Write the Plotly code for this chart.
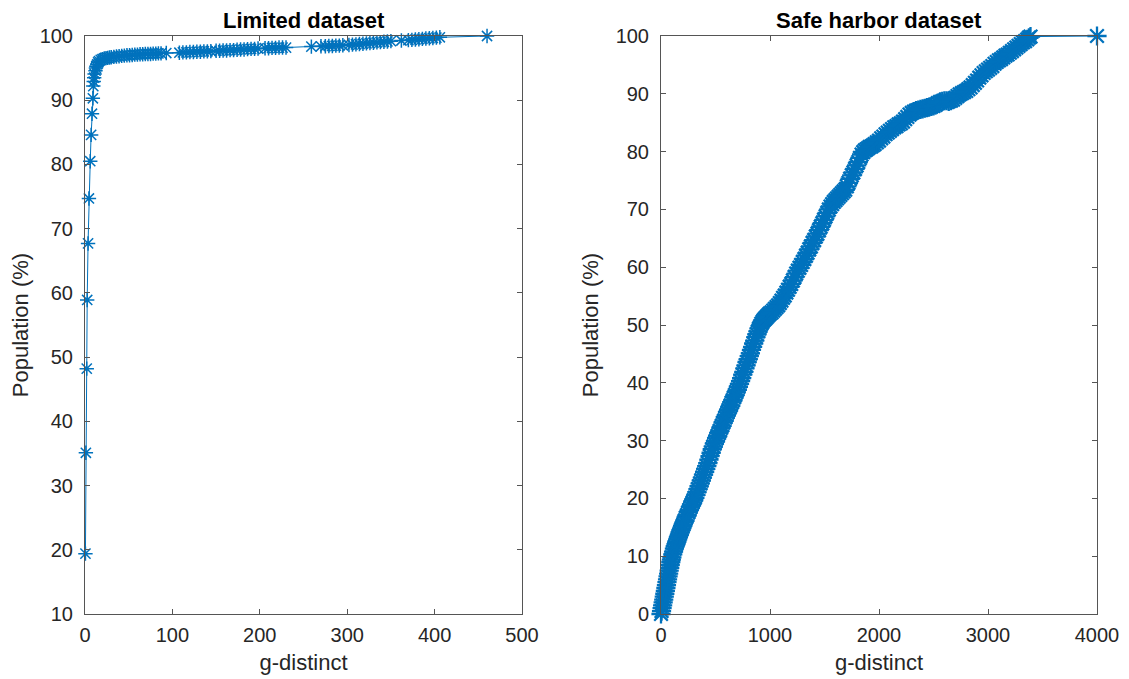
import plotly.graph_objects as go

# ---- Limited dataset (left) ----
limited_g = [0.5, 1, 2, 2.5, 3.5, 4.5, 6, 7, 8, 9, 9.5,
             10, 10.5, 11, 12, 12.5, 13, 14, 15, 16, 18, 20, 22, 24, 26, 28, 30,
             33, 36, 39, 42, 45, 48, 51, 54, 57, 60, 63, 66, 69, 72, 75, 78, 81, 84, 87,
             93,
             108, 112, 116, 120, 124, 128, 132, 136, 140, 144, 150, 154, 158, 162, 166,
             170, 174, 178, 182, 186, 190, 194,
             198,
             206, 210, 214, 218, 222, 226, 230,
             259,
             270, 275, 279, 283, 287, 291, 295,
             302, 306, 310, 314, 318, 322, 326, 330, 334, 338, 342, 346, 350,
             362,
             370, 374, 378, 382, 386, 390, 394, 398, 402, 406,
             460]
limited_pop = [19.4, 35.1, 48.2, 58.9, 67.7, 74.7, 80.5, 84.6, 87.9, 90.3, 92.2,
               92.9, 93.5, 94.1, 94.6, 95.0, 95.3, 95.6, 95.9, 96.1, 96.3, 96.4, 96.5, 96.55, 96.6, 96.65, 96.7,
               96.75, 96.8, 96.85, 96.9, 96.95, 97.0, 97.0, 97.05, 97.1, 97.1, 97.15, 97.15, 97.2, 97.2, 97.2, 97.25, 97.25, 97.3, 97.3,
               97.35,
               97.4, 97.45, 97.45, 97.5, 97.5, 97.55, 97.55, 97.6, 97.6, 97.65, 97.7, 97.7, 97.75, 97.75, 97.8,
               97.8, 97.85, 97.9, 97.9, 97.95, 98.0, 98.0,
               98.05,
               98.1, 98.1, 98.15, 98.15, 98.2, 98.2, 98.2,
               98.35,
               98.4, 98.4, 98.45, 98.45, 98.5, 98.5, 98.55,
               98.6, 98.65, 98.7, 98.75, 98.8, 98.85, 98.9, 98.95, 99.0, 99.05, 99.1, 99.15, 99.2,
               99.3,
               99.35, 99.4, 99.45, 99.5, 99.55, 99.6, 99.65, 99.7, 99.75, 99.8,
               100.0]

# ---- Safe harbor dataset (right) ----
harbor_g = [0, 5, 10, 15, 20, 25, 30, 35, 40, 45, 50, 55, 60, 65, 70, 75, 80, 85, 90, 95, 100,
            108, 115, 123, 130, 138, 145, 153, 160, 168, 175, 183, 190, 198, 205, 213, 220,
            230, 240, 250, 260, 270, 280, 290, 300, 310, 320, 330, 340, 350, 360, 370, 380, 390,
            400, 410, 420, 430, 440, 450, 460, 470, 480, 490, 500, 510, 520, 530, 540, 550, 560,
            570, 580, 590, 600, 610, 620, 630, 640, 650, 660, 670, 680, 690, 700, 710, 720, 730,
            740, 750, 760, 770, 780, 790, 800, 810, 820, 830, 840, 850, 860, 870, 880, 890, 900,
            910, 920, 930, 940, 950, 960, 970, 980, 990, 1000, 1015, 1030, 1045, 1060, 1075, 1090,
            1105, 1120, 1135, 1150, 1165, 1180, 1195, 1210, 1225, 1240, 1255, 1270, 1285, 1300,
            1315, 1330, 1345, 1360, 1375, 1390, 1405, 1420, 1435, 1450, 1465, 1480, 1495, 1510,
            1525, 1540, 1555, 1570, 1585, 1600, 1615, 1630, 1645, 1660, 1675, 1690, 1705, 1720,
            1735, 1750, 1765, 1780, 1795, 1810, 1825, 1840, 1855, 1870, 1885, 1900, 1915, 1930,
            1945, 1960, 1980, 2000, 2020, 2040, 2060, 2080, 2100, 2120, 2140, 2160, 2180, 2200,
            2220, 2240, 2260, 2280, 2300, 2320, 2340, 2360, 2380, 2400, 2420, 2440, 2460, 2480,
            2500, 2520, 2540, 2560, 2580, 2600, 2620, 2640, 2660, 2680, 2700, 2720, 2740, 2760,
            2780, 2800, 2820, 2840, 2860, 2880, 2900, 2920, 2940, 2960, 2980, 3000, 3020, 3040,
            3060, 3080, 3100, 3120, 3140, 3160, 3180, 3200, 3220, 3240, 3260, 3280, 3300, 3320,
            3340, 3360, 3375, 3390, 4000]
harbor_pop = [0, 0.5, 1.0, 1.5, 2.0, 2.5, 3.0, 3.5, 4.0, 4.5, 5.0, 5.5, 6.0, 6.5, 7.0, 7.5, 8.0, 8.5, 9.0, 9.4, 9.8,
              10.3, 10.8, 11.3, 11.7, 12.1, 12.5, 12.9, 13.3, 13.7, 14.1, 14.5, 14.8, 15.2, 15.5, 15.9, 16.2,
              16.7, 17.1, 17.6, 18.0, 18.5, 18.9, 19.3, 19.7, 20.1, 20.6, 21.1, 21.6, 22.1, 22.6, 23.1, 23.6, 24.1,
              24.6, 25.1, 25.6, 26.1, 26.7, 27.3, 27.9, 28.5, 29.0, 29.5, 29.9, 30.4, 30.8, 31.3, 31.7, 32.2, 32.6,
              33.1, 33.5, 34.0, 34.4, 34.9, 35.3, 35.7, 36.1, 36.6, 37.0, 37.5, 37.9, 38.4, 38.8, 39.3, 39.8, 40.3,
              40.8, 41.4, 41.9, 42.5, 43.0, 43.6, 44.1, 44.6, 45.1, 45.7, 46.2, 46.8, 47.3, 47.9, 48.4, 48.9, 49.4,
              49.8, 50.2, 50.5, 50.8, 51.0, 51.2, 51.4, 51.6, 51.8, 52.0, 52.2, 52.5, 52.8, 53.1, 53.4, 53.8,
              54.2, 54.7, 55.1, 55.6, 56.1, 56.6, 57.1, 57.7, 58.3, 58.9, 59.4, 59.9, 60.4, 60.9,
              61.4, 62.0, 62.5, 63.1, 63.6, 64.2, 64.7, 65.3, 65.8, 66.4, 67.0, 67.6, 68.2, 68.8,
              69.4, 70.0, 70.5, 70.9, 71.3, 71.6, 71.9, 72.2, 72.5, 72.8, 73.1, 73.4, 74.0, 74.6,
              75.3, 75.9, 76.4, 77.0, 77.6, 78.2, 78.9, 79.5, 79.9, 80.2, 80.4, 80.6, 80.8, 80.9,
              81.1, 81.3, 81.6, 81.9, 82.3, 82.6, 83.0, 83.3, 83.6, 83.9, 84.2, 84.4, 84.7, 84.9,
              85.2, 85.6, 86.0, 86.4, 86.7, 86.9, 87.1, 87.2, 87.3, 87.4, 87.5, 87.6, 87.7, 87.8,
              87.9, 88.1, 88.4, 88.6, 88.7, 88.8, 88.8, 88.7, 88.8, 89.0, 89.3, 89.6, 89.9, 90.1,
              90.3, 90.5, 90.8, 91.1, 91.5, 91.9, 92.3, 92.8, 93.2, 93.6, 93.9, 94.2, 94.5, 94.8,
              95.2, 95.5, 95.8, 96.0, 96.3, 96.6, 96.8, 97.1, 97.4, 97.7, 98.0, 98.3, 98.6, 98.9,
              99.1, 99.4, 99.7, 99.9, 100.0]

left_xticks = [0, 100, 200, 300, 400, 500]
left_yticks = [10, 20, 30, 40, 50, 60, 70, 80, 90, 100]
right_xticks = [0, 1000, 2000, 3000, 4000]
right_yticks = [0, 10, 20, 30, 40, 50, 60, 70, 80, 90, 100]

BLUE = "#0072BD"
AX = "#262626"
FONT = "Liberation Sans, Arial, Helvetica, sans-serif"

# The page body has an 8px margin, so figure coords = screen coords - 8
OFF = 8
W, H = 1129 - OFF, 679 - OFF
L_LEFT, L_RIGHT, R_LEFT, R_RIGHT = 85 - OFF, 522 - OFF, 661 - OFF, 1097 - OFF
TOP, BOTTOM = 36 - OFF, 614 - OFF
ML, MR, MT, MB = L_LEFT, W - R_RIGHT, TOP, H - BOTTOM
PW = W - ML - MR

fig = go.Figure()
fig.add_trace(go.Scatter(
    x=limited_g, y=limited_pop, mode="lines+markers", xaxis="x", yaxis="y",
    line=dict(color=BLUE, width=1),
    marker=dict(symbol="asterisk-open", size=12, color=BLUE, line=dict(color=BLUE, width=1.5)),
    cliponaxis=False, showlegend=False))
fig.add_trace(go.Scatter(
    x=harbor_g, y=harbor_pop, mode="lines+markers", xaxis="x2", yaxis="y2",
    line=dict(color=BLUE, width=1),
    marker=dict(symbol="asterisk-open", size=16, color=BLUE, line=dict(color=BLUE, width=2.3)),
    cliponaxis=False, showlegend=False))

axis_common = dict(showline=True, linecolor="#555555", linewidth=1, mirror="ticks",
                   ticks="inside", ticklen=5, tickcolor="#555555", showgrid=False,
                   zeroline=False, automargin=False,
                   tickfont=dict(family=FONT, size=20, color=AX))
title_font = dict(family=FONT, size=22, color=AX)

fig.update_layout(
    width=W, height=H,
    margin=dict(l=ML, r=MR, t=MT, b=MB, autoexpand=False),
    paper_bgcolor="white", plot_bgcolor="white",
    font=dict(family=FONT, color=AX),
    xaxis=dict(domain=[0, (L_RIGHT - ML) / PW], range=[0, 500], tickvals=left_xticks,
               anchor="y", ticklabelstandoff=3, title=dict(text="g-distinct", font=title_font, standoff=9),
               **axis_common),
    yaxis=dict(domain=[0, 1], range=[10, 100], tickvals=left_yticks, ticklabelstandoff=7,
               anchor="x", title=dict(text="Population (%)", font=title_font, standoff=10),
               **axis_common),
    xaxis2=dict(domain=[(R_LEFT - ML) / PW, 1], range=[0, 4000], tickvals=right_xticks,
                anchor="y2", ticklabelstandoff=3, title=dict(text="g-distinct", font=title_font, standoff=9),
                **axis_common),
    yaxis2=dict(domain=[0, 1], range=[0, 100], tickvals=right_yticks, ticklabelstandoff=7,
                anchor="x2", title=dict(text="Population (%)", font=title_font, standoff=10),
                **axis_common),
    annotations=[
        dict(text="<b>Limited dataset</b>", x=0.5 * (L_RIGHT - ML) / PW, y=1, xref="paper", yref="paper",
             xanchor="center", yanchor="bottom", yshift=1, showarrow=False,
             font=dict(family=FONT, size=22, color="black")),
        dict(text="<b>Safe harbor dataset</b>", x=((R_LEFT + R_RIGHT) / 2 - ML) / PW, y=1, xref="paper",
             yref="paper", xanchor="center", yanchor="bottom", yshift=1, showarrow=False,
             font=dict(family=FONT, size=22, color="black")),
    ],
)

fig.write_html("out.html")
